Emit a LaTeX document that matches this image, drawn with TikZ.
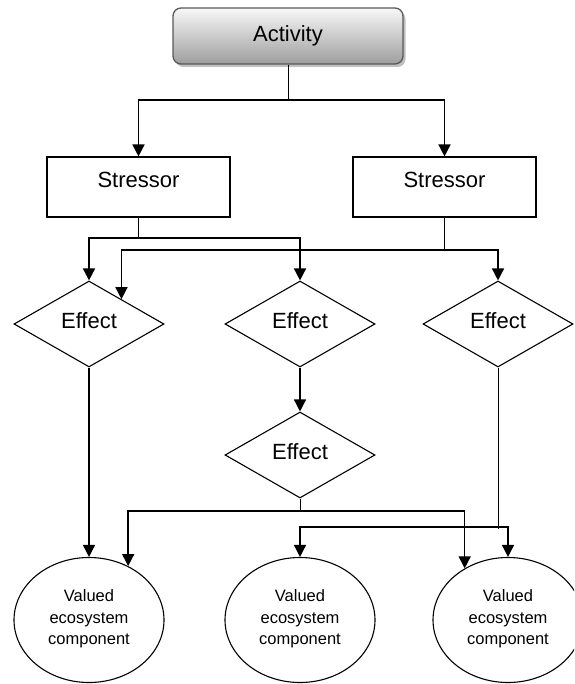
\documentclass[tikz,border=0pt]{standalone}
\usepackage{fontspec}
\setmainfont{Liberation Sans}
\usetikzlibrary{arrows.meta,shapes.geometric,calc,shadows}

\begin{document}
\begin{tikzpicture}[x=1pt,y=-1pt,
  big/.style={font=\fontsize{22}{26}\selectfont, inner sep=0pt},
  actbox/.style={big, draw=black!65, line width=1.3pt, rounded corners=8pt,
    minimum width=230pt, minimum height=56pt, top color=black!3, bottom color=black!38,
    drop shadow={shadow xshift=2.5pt, shadow yshift=-3pt, fill=black!45, opacity=0.55}},
  stressbox/.style={big, draw, line width=1.1pt, minimum width=183pt, minimum height=60pt,
    text height=16pt, text depth=14pt},
  effectbox/.style={big, draw, diamond, aspect=1.744, line width=1.1pt,
    minimum width=150pt, minimum height=86pt, text height=16pt, text depth=7pt},
  vecbox/.style={draw, ellipse, line width=1.1pt, inner sep=0pt,
    minimum width=150pt, minimum height=125pt},
  veclabel/.style={font=\fontsize{16.5}{21.5}\selectfont, align=center, inner sep=0pt, yshift=1pt},
  stem/.style={line width=0.9pt},
  branch/.style={line width=1.5pt, -{Triangle[width=12pt,length=12pt]}}
]
\clip (0,0) rectangle (574,684);

% boxes
\node[actbox] (act) at (288,36) {Activity};
\node[stressbox] (s1) at (138.5,187) {Stressor};
\node[stressbox] (s2) at (444.5,187) {Stressor};

\node[effectbox] (e1) at (89,324) {Effect};
\node[effectbox] (e2) at (300,324) {Effect};
\node[effectbox] (e3) at (498,324) {Effect};
\node[effectbox] (e4) at (300,455) {Effect};

\node[vecbox, label={[veclabel]center:Valued\\ecosystem\\component}] (v1) at (89,620) {};
\node[vecbox, label={[veclabel]center:Valued\\ecosystem\\component}] (v2) at (300,620) {};
\node[vecbox, label={[veclabel]center:Valued\\ecosystem\\component}] (v3) at (508,620) {};

% heights of the horizontal connector runs
\coordinate (h0) at (0,100);
\coordinate (h1) at (0,238);
\coordinate (h2) at (0,250);
\coordinate (h3) at (0,511);
\coordinate (h4) at (0,527);
\coordinate (h4x) at (0,529);

% entry points on the sides of shapes
\coordinate (e1in) at ($(e1.north)!0.43!(e1.east)$);
\coordinate (v1in) at (v1.54);
\coordinate (v3in) at (v3.130);

% activity -> stressors
\draw[stem] (act.south) -- (act.south |- h0);
\draw[branch] (act.south |- h0) -| (s1.north);
\draw[branch] (act.south |- h0) -| (s2.north);

% left stressor -> effects
\draw[stem] (s1.south) -- (s1.south |- h1);
\draw[branch] (s1.south |- h1) -| (e1.north);
\draw[branch] (s1.south |- h1) -| (e2.north);

% right stressor -> effects
\draw[stem] (s2.south) -- (s2.south |- h2);
\draw[branch] (s2.south |- h2) -| (e1in);
\draw[branch] (s2.south |- h2) -| (e3.north);

% effect chains
\draw[branch] (e2.south) -- (e4.north);
\draw[branch] (e1.south) -- (v1.north);

\draw[stem] (e4.south) -- (e4.south |- h3);
\draw[branch] (e4.south |- h3) -| (v1in);
\draw[branch] (e4.south |- h3) -| (v3in);

\draw[stem] (e3.south) -- (e3.south |- h4x);
\draw[branch] (e3.south |- h4) -| (v2.north);
\draw[branch] (e3.south |- h4) -| (v3.north);
\end{tikzpicture}
\end{document}
